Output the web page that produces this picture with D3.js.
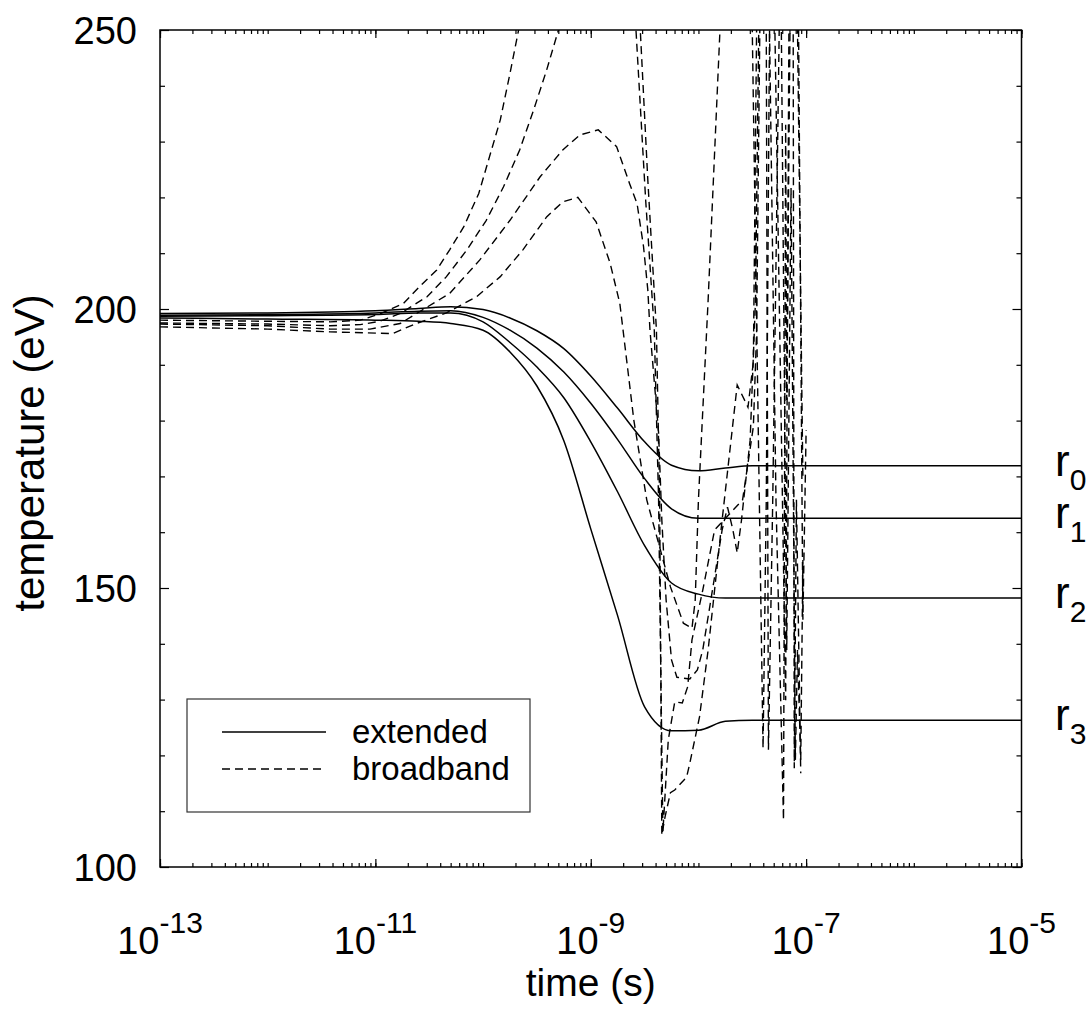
<!DOCTYPE html>
<html>
<head>
<meta charset="utf-8">
<script src="https://cdn.jsdelivr.net/npm/d3@7"></script>
<style>
  body { margin: 0; background: #fff; }
  svg { font-family: "Liberation Sans", Arial, sans-serif; }
</style>
</head>
<body>
<svg id="chart" width="1090" height="1009"></svg>
<script>
// time is kept as log10(t / s)
const extLogT = [-13, -12, -11, -10.6, -10.3, -10, -9.75, -9.5, -9.25, -9, -8.75, -8.5, -8.25, -8, -7.75, -7.5, -7, -6, -5];
const extR0 = [199.2, 199.3, 199.7, 200.1, 200.4, 199.9, 198.4, 196.1, 192.9, 188.0, 182.2, 176.2, 172.0, 171.0, 171.5, 171.9, 171.9, 171.9, 171.9];
const extR1 = [198.9, 199.0, 199.3, 199.6, 199.7, 198.5, 196.2, 193.0, 188.7, 183.1, 176.6, 169.6, 164.2, 162.5, 162.5, 162.5, 162.5, 162.5, 162.5];
const extR2 = [198.7, 198.8, 199.0, 199.3, 199.3, 197.7, 194.0, 189.6, 184.1, 176.2, 167.2, 157.6, 150.9, 148.9, 148.2, 148.2, 148.2, 148.2, 148.2];
const extR3 = [198.4, 198.2, 198.0, 197.8, 197.4, 196.2, 192.3, 186.2, 176.4, 160.6, 145.0, 128.7, 124.4, 124.5, 126.1, 126.3, 126.3, 126.3, 126.3];

// broadband runs: [log10 t, T]
const bbR0 = [[-13.00,198.0],[-12.00,197.8],[-11.42,197.7],[-11.14,198.0],[-10.96,199.1],[-10.74,201.0],[-10.59,204.0],[-10.43,207.0],[-10.31,210.6],[-10.18,214.7],[-10.04,220.7],[-9.94,227.3],[-9.84,233.9],[-9.75,242.2],[-9.67,250.0],[-9.55,265],[-9.30,290],[-9.00,310],[-8.75,290],[-8.54,250.0],[-8.47,223.1],[-8.39,196.2],[-8.36,165.8],[-8.34,105.7],[-8.31,109.0],[-8.26,113.3],[-8.22,113.8],[-8.11,116.1],[-8.08,118.6],[-7.99,126.9],[-7.91,138.9],[-7.78,162.2],[-7.64,186.4],[-7.54,182.4],[-7.49,190.5],[-7.46,250.0],[-7.40,280],[-7.34,250.0],[-7.28,165.8],[-7.21,108.4],[-7.19,233.0],[-7.18,183.7],[-7.15,250.0],[-7.11,275],[-7.08,250.0],[-7.03,169.4]];
const bbR1 = [[-13.00,197.5],[-12.00,197.3],[-11.42,197.0],[-11.14,197.2],[-10.96,197.8],[-10.77,199.2],[-10.52,202.2],[-10.34,205.8],[-10.15,210.6],[-9.97,215.9],[-9.81,221.9],[-9.66,228.5],[-9.53,235.7],[-9.41,242.8],[-9.30,250.0],[-9.10,268],[-8.80,285],[-8.65,262],[-8.58,250.0],[-8.49,219.5],[-8.41,196.2],[-8.37,165.8],[-8.33,106.3],[-8.28,122.8],[-8.22,129.6],[-8.15,129.4],[-8.10,132.3],[-8.06,140.7],[-7.96,149.6],[-7.85,160.4],[-7.59,165.8],[-7.49,178.9],[-7.46,195.7],[-7.43,250.0],[-7.40,275],[-7.37,250.0],[-7.35,121.0],[-7.31,165.8],[-7.25,250.0],[-7.18,270],[-7.12,250.0],[-7.11,117.7],[-7.09,165.8],[-7.05,116.8]];
const bbR2 = [[-13.00,197.3],[-12.00,197.0],[-11.42,196.4],[-11.05,196.4],[-10.77,197.4],[-10.31,202.8],[-10.03,208.8],[-9.75,215.9],[-9.47,223.7],[-9.26,228.5],[-9.10,231.2],[-8.93,232.1],[-8.76,229.1],[-8.64,222.5],[-8.57,218.9],[-8.51,211.2],[-8.47,203.4],[-8.45,196.2],[-8.37,177.8],[-8.34,162.2],[-8.30,147.8],[-8.25,137.1],[-8.20,134.0],[-8.08,133.7],[-8.01,135.3],[-7.96,138.9],[-7.87,149.6],[-7.78,160.4],[-7.73,164.5],[-7.68,160.4],[-7.64,156.3],[-7.60,162.2],[-7.52,176.5],[-7.47,201.6],[-7.44,250.0],[-7.40,280],[-7.29,250.0],[-7.19,129.9],[-7.16,250.0],[-7.12,270],[-7.07,250.0],[-7.03,144.3],[-7.00,178.3]];
const bbR3 = [[-13.00,196.8],[-12.00,196.4],[-11.42,195.9],[-10.84,195.6],[-10.62,197.4],[-10.34,199.3],[-10.06,202.2],[-9.84,205.8],[-9.63,210.6],[-9.41,216.5],[-9.26,219.2],[-9.12,220.0],[-8.95,215.6],[-8.82,208.2],[-8.73,201.0],[-8.70,196.2],[-8.60,180.1],[-8.48,165.8],[-8.36,157.3],[-8.26,150.2],[-8.14,143.7],[-8.06,142.8],[-8.03,147.8],[-8.00,165.8],[-7.91,201.6],[-7.80,250.0],[-7.65,290],[-7.55,280],[-7.50,250.0],[-7.40,121.3],[-7.37,165.8],[-7.34,250.0],[-7.28,265],[-7.23,250.0],[-7.18,138.9],[-7.14,221.7],[-7.10,119.2],[-7.08,138.9],[-7.05,119.2],[-7.03,155.0]];

const xLabelExp = [-13, -11, -9, -7, -5];
const yTickLabels = [100, 150, 200, 250];
const yMinorTicks = [110, 120, 130, 140, 160, 170, 180, 190, 210, 220, 230, 240];
const ringNames = ["0", "1", "2", "3"];
const legendNames = ["extended", "broadband"];

const L = 160, R = 1021.5, T = 30, B = 867;

const svg = d3.select("#chart");
const x = d3.scaleLog().domain([1e-13, 1e-5]).range([L, R]);
const y = d3.scaleLinear().domain([100, 250]).range([B, T]);

svg.append("defs").append("clipPath").attr("id", "plot")
  .append("rect").attr("x", L).attr("y", T).attr("width", R - L).attr("height", B - T);

// ticks on all four sides, pointing inward
function ticks(axis, tr) {
  const g = svg.append("g").attr("transform", tr).call(axis);
  g.select(".domain").remove();
  g.selectAll(".tick line").attr("stroke", "#000").attr("stroke-width", 1.2);
  return g;
}
const xMajor = xLabelExp.map(e => Math.pow(10, e));
const xMinor = x.ticks();
ticks(d3.axisBottom(x).tickValues(xMinor).tickSize(-4).tickFormat(""), `translate(0,${B})`);
ticks(d3.axisBottom(x).tickValues(xMajor).tickSize(-8).tickFormat(""), `translate(0,${B})`);
ticks(d3.axisTop(x).tickValues(xMinor).tickSize(-4).tickFormat(""), `translate(0,${T})`);
ticks(d3.axisTop(x).tickValues(xMajor).tickSize(-8).tickFormat(""), `translate(0,${T})`);
ticks(d3.axisLeft(y).tickValues(yMinorTicks).tickSize(-5).tickFormat(""), `translate(${L},0)`);
ticks(d3.axisLeft(y).tickValues(yTickLabels).tickSize(-9).tickFormat(""), `translate(${L},0)`);
ticks(d3.axisRight(y).tickValues(yMinorTicks).tickSize(-5).tickFormat(""), `translate(${R},0)`);
ticks(d3.axisRight(y).tickValues(yTickLabels).tickSize(-9).tickFormat(""), `translate(${R},0)`);

// tick labels
svg.append("g").selectAll("text").data(yTickLabels).enter().append("text")
  .attr("x", 137).attr("y", d => y(d)).attr("dy", "0.36em")
  .attr("text-anchor", "end").style("font-size", "38px").text(d => d);

const xl = svg.append("g").selectAll("text").data(xLabelExp).enter().append("text")
  .attr("x", d => x(Math.pow(10, d))).attr("y", 954)
  .attr("text-anchor", "middle").style("font-size", "38px");
xl.append("tspan").text("10");
xl.append("tspan").attr("dy", -21).style("font-size", "30px").text(d => String(d));

// axis titles
svg.append("text").attr("x", (L + R) / 2).attr("y", 996).attr("text-anchor", "middle")
  .style("font-size", "39px").text("time (s)");
svg.append("text").attr("transform", "translate(44,453) rotate(-90)")
  .attr("text-anchor", "middle").style("font-size", "42px").text("temperature (eV)");

// curves
const plot = svg.append("g").attr("clip-path", "url(#plot)");
const lineExt = d3.line().x(d => x(Math.pow(10, d[0]))).y(d => y(d[1])).curve(d3.curveMonotoneX);
const lineBB = d3.line().x(d => x(Math.pow(10, d[0]))).y(d => y(d[1]));

[bbR0, bbR1, bbR2, bbR3].forEach(s => {
  plot.append("path").datum(s).attr("d", lineBB)
    .attr("fill", "none").attr("stroke", "#000").attr("stroke-width", 1.4)
    .attr("stroke-dasharray", "8,5");
});

const extSeries = [extR0, extR1, extR2, extR3];
extSeries.forEach(vals => {
  const pts = extLogT.map((t, i) => [t, vals[i]]);
  plot.append("path").datum(pts).attr("d", lineExt)
    .attr("fill", "none").attr("stroke", "#000").attr("stroke-width", 1.5);
});

// frame
svg.append("rect").attr("x", L).attr("y", T).attr("width", R - L).attr("height", B - T)
  .attr("fill", "none").attr("stroke", "#000").attr("stroke-width", 1.5);

// r labels next to the flat tails
extSeries.forEach((vals, i) => {
  const yy = y(vals[vals.length - 1]);
  const t = svg.append("text").attr("x", 1055).attr("y", yy + 10).style("font-size", "44px").text("r");
  t.append("tspan").attr("dy", 14).style("font-size", "30px").text(ringNames[i]);
});

// legend
const lg = svg.append("g");
lg.append("rect").attr("x", 187).attr("y", 699).attr("width", 343).attr("height", 113)
  .attr("fill", "#fff").attr("stroke", "#333").attr("stroke-width", 1.2);
legendNames.forEach((name, i) => {
  const ly = 732 + i * 37;
  lg.append("line").attr("x1", 222).attr("x2", 326).attr("y1", ly).attr("y2", ly)
    .attr("stroke", "#000").attr("stroke-width", i ? 1.4 : 1.5)
    .attr("stroke-dasharray", i ? "8,5" : null);
  lg.append("text").attr("x", 352).attr("y", ly + 11).style("font-size", "33px").text(name);
});
</script>
</body>
</html>
